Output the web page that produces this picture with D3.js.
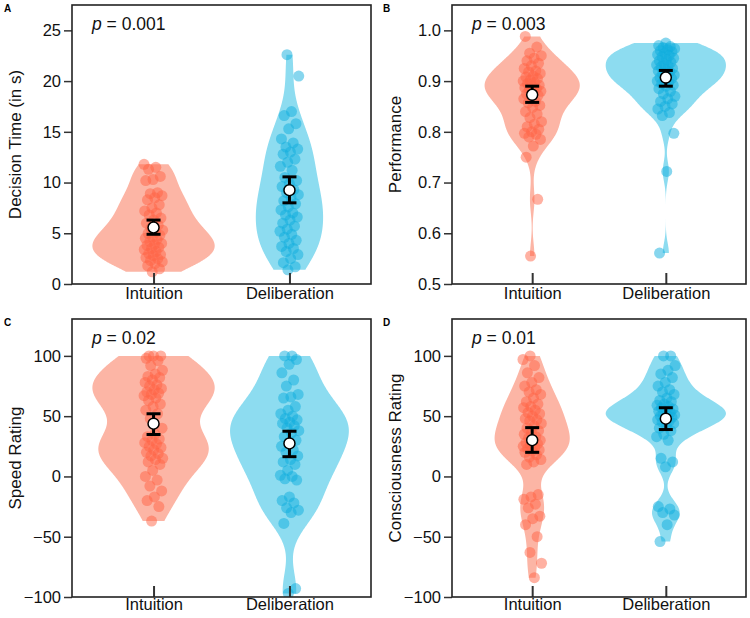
<!DOCTYPE html>
<html><head><meta charset="utf-8">
<script src="https://cdn.jsdelivr.net/npm/d3@7"></script>
<style>body{margin:0;background:#fff}svg{display:block;font-family:"Liberation Sans",Arial,Helvetica,sans-serif}</style>
</head><body><svg id="chart" width="750" height="618"></svg>
<script>
// ---------------- data ----------------
const categories = ["Intuition", "Deliberation"];
const panelLetters = ["A", "B", "C", "D"];
const yTitles = ["Decision Time (in s)", "Performance", "Speed Rating", "Consciousness Rating"];
const pValues = ["0.001", "0.003", "0.02", "0.01"];
const yDomains = [[0, 27.5], [0.5, 1.05], [-100, 130.6], [-100, 130.6]];
const yTicksA = [0, 5, 10, 15, 20, 25];
const yTicksB = [0.5, 0.6, 0.7, 0.8, 0.9, 1.0];
const yTicksCD = [-100, -50, 0, 50, 100];

const timeIntuition = [11.8, 11.5, 11.3, 10.6, 10.3, 10.2, 9.0, 8.9, 8.7, 8.5, 8.3, 7.8, 7.5, 7.2, 7.0, 6.8, 6.5, 6.3, 6.0, 5.8, 5.5, 5.3, 5.1, 5.0, 4.8, 4.6, 4.5, 4.4, 4.2, 4.0, 3.9, 3.8, 3.6, 3.5, 3.4, 3.2, 3.0, 2.9, 2.8, 2.6, 2.5, 2.3, 2.2, 2.0, 1.8, 1.5, 1.2];
const timeDeliberation = [22.6, 20.5, 17.0, 16.6, 15.8, 15.3, 14.3, 13.9, 13.5, 13.3, 13.0, 12.8, 12.3, 12.0, 11.6, 11.2, 10.5, 10.2, 9.9, 9.6, 9.3, 9.0, 8.8, 8.5, 8.2, 7.9, 7.6, 7.3, 7.0, 6.8, 6.6, 6.3, 6.0, 5.7, 5.4, 5.2, 4.9, 4.6, 4.3, 4.0, 3.7, 3.5, 3.2, 2.9, 2.5, 2.1, 1.7, 1.4];
const perfIntuition = [0.988, 0.967, 0.955, 0.950, 0.945, 0.940, 0.935, 0.930, 0.925, 0.920, 0.918, 0.915, 0.910, 0.908, 0.905, 0.902, 0.900, 0.897, 0.895, 0.892, 0.890, 0.887, 0.885, 0.882, 0.880, 0.877, 0.875, 0.872, 0.870, 0.865, 0.860, 0.857, 0.852, 0.848, 0.840, 0.835, 0.828, 0.820, 0.815, 0.810, 0.805, 0.800, 0.797, 0.795, 0.790, 0.785, 0.772, 0.750, 0.667, 0.555];
const perfDeliberation = [0.975, 0.970, 0.968, 0.966, 0.964, 0.962, 0.960, 0.958, 0.955, 0.952, 0.950, 0.948, 0.945, 0.942, 0.940, 0.937, 0.935, 0.932, 0.930, 0.928, 0.925, 0.922, 0.920, 0.918, 0.915, 0.912, 0.910, 0.907, 0.905, 0.902, 0.900, 0.897, 0.895, 0.892, 0.890, 0.885, 0.880, 0.875, 0.870, 0.865, 0.860, 0.855, 0.850, 0.845, 0.838, 0.832, 0.797, 0.722, 0.561];
const speedIntuition = [100, 100, 100, 98, 96, 92, 88, 85, 83, 82, 80, 78, 76, 75, 73, 72, 70, 69, 68, 67, 65, 63, 60, 58, 55, 52, 48, 40, 35, 33, 31, 30, 28, 27, 25, 24, 22, 20, 19, 17, 15, 14, 12, 10, 5, 0, -3, -8, -12, -17, -20, -25, -37];
const speedDeliberation = [100, 100, 97, 93, 86, 80, 75, 68, 66, 65, 58, 55, 52, 50, 48, 47, 45, 44, 42, 40, 38, 36, 33, 30, 28, 25, 22, 20, 17, 14, 12, 10, 5, 1, 0, -2, -3, -17, -20, -22, -26, -28, -30, -39, -93, -97];
const consIntuition = [100, 97, 92, 86, 82, 78, 75, 72, 70, 68, 65, 62, 60, 58, 57, 55, 53, 52, 50, 48, 47, 46, 44, 42, 40, 38, 36, 35, 33, 32, 30, 29, 28, 27, 26, 25, 24, 23, 22, 21, 20, 18, 16, 14, 12, 10, -15, -17, -19, -23, -26, -33, -35, -40, -50, -63, -72, -84];
const consDeliberation = [100, 100, 92, 88, 85, 82, 78, 75, 72, 70, 68, 65, 63, 62, 60, 59, 58, 57, 56, 55, 54, 53, 52, 51, 50, 50, 49, 48, 47, 46, 45, 44, 42, 40, 38, 35, 33, 30, 15, 12, 8, -25, -27, -30, -32, -40, -54];

// mean and error bar (lower, upper) per panel: [Intuition, Deliberation]
const meansA = [5.57, 9.25], lowA = [4.9, 8.0], highA = [6.3, 10.56];
const meansB = [0.873, 0.907], lowB = [0.858, 0.890], highB = [0.890, 0.921];
const meansC = [43.8, 27.4], lowC = [34.8, 16.4], highC = [52.0, 37.5];
const meansD = [30.1, 47.9], lowD = [20.0, 38.9], highD = [40.5, 57.0];

// ---------------- layout ----------------
const svg = d3.select("#chart");
const frames = [
  {x0: 72, x1: 371, y0: 5, y1: 284, lx: 4, ly: 12},
  {x0: 452, x1: 746, y0: 5, y1: 284, lx: 383, ly: 12},
  {x0: 72, x1: 371, y0: 319, y1: 597, lx: 4, ly: 326},
  {x0: 452, x1: 746, y0: 319, y1: 597, lx: 383, ly: 326}
];
const panels = [
  {data: [timeIntuition, timeDeliberation], means: meansA, lo: lowA, hi: highA, ticks: yTicksA, fmt: d3.format("d")},
  {data: [perfIntuition, perfDeliberation], means: meansB, lo: lowB, hi: highB, ticks: yTicksB, fmt: d3.format(".1f")},
  {data: [speedIntuition, speedDeliberation], means: meansC, lo: lowC, hi: highC, ticks: yTicksCD, fmt: d => d < 0 ? "\u2212" + Math.abs(d) : String(d)},
  {data: [consIntuition, consDeliberation], means: meansD, lo: lowD, hi: highD, ticks: yTicksCD, fmt: d => d < 0 ? "\u2212" + Math.abs(d) : String(d)}
];
const violinFill = ["#FCB5A5", "#8DDCF0"];
const pointFill = ["#FF6446", "#10AEDE"];

function nrd0(v) {
  const s = v.slice().sort(d3.ascending);
  const sd = d3.deviation(s);
  const iqr = d3.quantile(s, 0.75) - d3.quantile(s, 0.25);
  const lo = Math.min(sd, iqr / 1.34) || sd;
  return 0.9 * lo * Math.pow(s.length, -0.2);
}
function kde(v, bw, n) {
  const lo = d3.min(v), hi = d3.max(v);
  return d3.range(n).map(i => {
    const x = lo + (hi - lo) * i / (n - 1);
    const d = d3.mean(v, t => Math.exp(-0.5 * ((x - t) / bw) ** 2)) / (bw * Math.sqrt(2 * Math.PI));
    return [x, d];
  });
}

panels.forEach((p, pi) => {
  const f = frames[pi];
  const g = svg.append("g");
  const x = d3.scalePoint().domain(categories).range([f.x0, f.x1]).padding(0.6);
  const y = d3.scaleLinear().domain(yDomains[pi]).range([f.y1, f.y0]);
  const step = x.step();

  const clipId = "clip" + pi;
  svg.append("clipPath").attr("id", clipId).append("rect")
    .attr("x", f.x0).attr("y", f.y0).attr("width", f.x1 - f.x0).attr("height", f.y1 - f.y0);
  const plot = g.append("g").attr("clip-path", `url(#${clipId})`);

  const dens = p.data.map(v => kde(v, nrd0(v), 256));
  const maxD = d3.max(dens, ds => d3.max(ds, d => d[1]));
  const w = d3.scaleLinear().domain([0, maxD]).range([0, 0.45 * step]);

  dens.forEach((ds, gi) => {
    const cx = x(categories[gi]);
    plot.append("path").datum(ds)
      .attr("d", d3.area().y(d => y(d[0])).x0(d => cx - w(d[1])).x1(d => cx + w(d[1])).curve(d3.curveBasis))
      .attr("fill", violinFill[gi]).attr("stroke", "none");
  });

  p.data.forEach((v, gi) => {
    const cx = x(categories[gi]);
    plot.append("g").selectAll("circle").data(v).join("circle")
      .attr("cx", (d, i) => cx + (((i * 0.618034 + 0.37 * gi + 0.13 * pi) % 1) * 2 - 1) * 0.07 * step)
      .attr("cy", d => y(d))
      .attr("r", 5.5)
      .attr("fill", pointFill[gi]).attr("fill-opacity", 0.5);
  });

  categories.forEach((c, gi) => {
    const cx = x(c);
    const eb = g.append("g").attr("stroke", "#000").attr("stroke-width", 3);
    eb.append("line").attr("x1", cx).attr("x2", cx).attr("y1", y(p.lo[gi])).attr("y2", y(p.hi[gi]));
    eb.append("line").attr("x1", cx - 7).attr("x2", cx + 7).attr("y1", y(p.lo[gi])).attr("y2", y(p.lo[gi]));
    eb.append("line").attr("x1", cx - 7).attr("x2", cx + 7).attr("y1", y(p.hi[gi])).attr("y2", y(p.hi[gi]));
    g.append("circle").attr("cx", cx).attr("cy", y(p.means[gi])).attr("r", 5.5)
      .attr("fill", "#fff").attr("stroke", "#000").attr("stroke-width", 1.5);
  });

  // axes
  const ya = g.append("g").attr("transform", `translate(${f.x0},0)`)
    .call(d3.axisLeft(y).tickValues(p.ticks).tickFormat(p.fmt).tickSize(8).tickPadding(3));
  ya.select(".domain").remove();
  ya.selectAll(".tick line").attr("stroke", "#333").attr("stroke-width", 1.5);
  ya.selectAll(".tick text").attr("font-size", 16.5).attr("fill", "#111");
  ya.attr("font-family", null);

  const xa = g.append("g").attr("transform", `translate(0,${f.y1})`)
    .call(d3.axisBottom(x).tickSize(-11).tickPadding(pi < 2 ? 3 : 1));
  xa.select(".domain").remove();
  xa.selectAll(".tick line").attr("stroke", "#333").attr("stroke-width", 2);
  xa.selectAll(".tick text").attr("font-size", 16.5).attr("fill", "#111");
  xa.attr("font-family", null);

  g.append("rect").attr("x", f.x0).attr("y", f.y0).attr("width", f.x1 - f.x0).attr("height", f.y1 - f.y0)
    .attr("fill", "none").attr("stroke", "#222").attr("stroke-width", 1.6);

  // titles
  g.append("text").attr("transform", `translate(${f.x0 - 51},${(f.y0 + f.y1) / 2}) rotate(-90)`)
    .attr("text-anchor", "middle").attr("font-size", 17).attr("fill", "#111").text(yTitles[pi]);
  const pt = g.append("text").attr("x", f.x0 + 20).attr("y", f.y0 + 25).attr("font-size", 17.5).attr("fill", "#111");
  pt.append("tspan").attr("font-style", "italic").text("p");
  pt.append("tspan").text(" = " + pValues[pi]);
  g.append("text").attr("x", f.lx).attr("y", f.ly).attr("font-size", 10).attr("font-weight", "bold").text(panelLetters[pi]);
});
</script></body></html>
